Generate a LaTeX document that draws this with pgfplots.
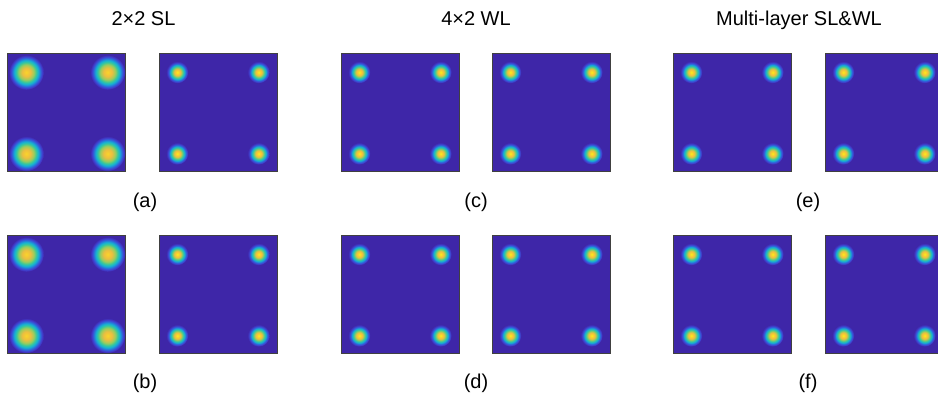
\documentclass[border=0pt]{standalone}
\usepackage{pgfplots}
\usepackage{pgfplotstable}
\pgfplotsset{compat=1.18}
\usepackage{fontspec}
\setmainfont{Liberation Sans}

% parula-like colour steps
\definecolor{pbg}{RGB}{62,38,168}
\definecolor{pc1}{RGB}{68,80,238}
\definecolor{pc2}{RGB}{35,140,240}
\definecolor{pc3}{RGB}{20,180,212}
\definecolor{pc4}{RGB}{60,200,150}
\definecolor{pc5}{RGB}{150,205,95}
\definecolor{pc6}{RGB}{236,190,64}
\definecolor{pc7}{RGB}{250,212,42}
\definecolor{pc8}{RGB}{250,240,24}
\colorlet{pe1}{pc1!55!pbg}
\colorlet{pe2}{pc2!70!pbg}

% density profiles: circle edge sits at 25bp
\pgfdeclareradialshading{spot}{\pgfpointorigin}{%
  color(0bp)=(pc8); color(3bp)=(pc7); color(7bp)=(pc6); color(10bp)=(pc5);
  color(13bp)=(pc4); color(16bp)=(pc3); color(19bp)=(pe2); color(22bp)=(pe1);
  color(25bp)=(pbg); color(50bp)=(pbg)}
\pgfdeclareradialshading{cloud}{\pgfpointorigin}{%
  color(0bp)=(pc7); color(6bp)=(pc6); color(11bp)=(pc5); color(14bp)=(pc4);
  color(17bp)=(pc3); color(20bp)=(pe2); color(22.5bp)=(pe1);
  color(25bp)=(pbg); color(50bp)=(pbg)}

\pgfdeclareplotmark{spot}{%
  \pgfpathcircle{\pgfpointorigin}{\pgfplotmarksize}%
  \pgfshadepath{spot}{0}\pgfusepath{discard}}
\pgfdeclareplotmark{cloud}{%
  \pgfpathcircle{\pgfpointorigin}{\pgfplotmarksize}%
  \pgfshadepath{cloud}{0}\pgfusepath{discard}}

% received symbol clusters (I/Q)
\pgfplotstableread{
x y
-1 -1
1 -1
-1 1
1 1
}\constellation

\pgfplotsset{panel/.style={
  anchor=north west, width=59pt, height=59pt, scale only axis,
  xmin=-1.45, xmax=1.45, ymin=-1.45, ymax=1.45,
  xtick=\empty, ytick=\empty,
  clip marker paths=true,
  axis background/.style={fill=pbg},
  axis line style={draw=black!75, line width=0.5pt},
}}

\newcommand{\panel}[4]{%
  \begin{axis}[panel, at={(#1,#2)}]
    \addplot[only marks, mark=#3, mark size=#4] table {\constellation};
  \end{axis}}

\begin{document}
\begin{tikzpicture}
\path[use as bounding box] (0,0) rectangle (469pt,197.5pt);
\clip (0,0) rectangle (469pt,197.5pt);

% top row
\panel{4pt}{170.5pt}{cloud}{8.75pt}
\panel{79.5pt}{170.5pt}{spot}{5.5pt}
\panel{170.5pt}{170.5pt}{spot}{5.5pt}
\panel{246pt}{170.5pt}{spot}{5.5pt}
\panel{336.5pt}{170.5pt}{spot}{5.5pt}
\panel{412.5pt}{170.5pt}{spot}{5.5pt}
% bottom row
\panel{4pt}{79.5pt}{cloud}{8.75pt}
\panel{79.5pt}{79.5pt}{spot}{5.5pt}
\panel{170.5pt}{79.5pt}{spot}{5.5pt}
\panel{246pt}{79.5pt}{spot}{5.5pt}
\panel{336.5pt}{79.5pt}{spot}{5.5pt}
\panel{412.5pt}{79.5pt}{spot}{5.5pt}

\begin{scope}[every node/.style={anchor=base, inner sep=0pt, font=\fontsize{10pt}{12pt}\selectfont}]
\node at (71.75pt,184.5pt) {2×2 SL};
\node at (238pt,184.5pt) {4×2 WL};
\node at (399.5pt,184.5pt) {Multi-layer SL\&WL};
\node at (72.5pt,93.5pt) {(a)};
\node at (72.5pt,3pt) {(b)};
\node at (238pt,93.5pt) {(c)};
\node at (238pt,3pt) {(d)};
\node at (404pt,93.5pt) {(e)};
\node at (404pt,3pt) {(f)};
\end{scope}
\end{tikzpicture}
\end{document}
